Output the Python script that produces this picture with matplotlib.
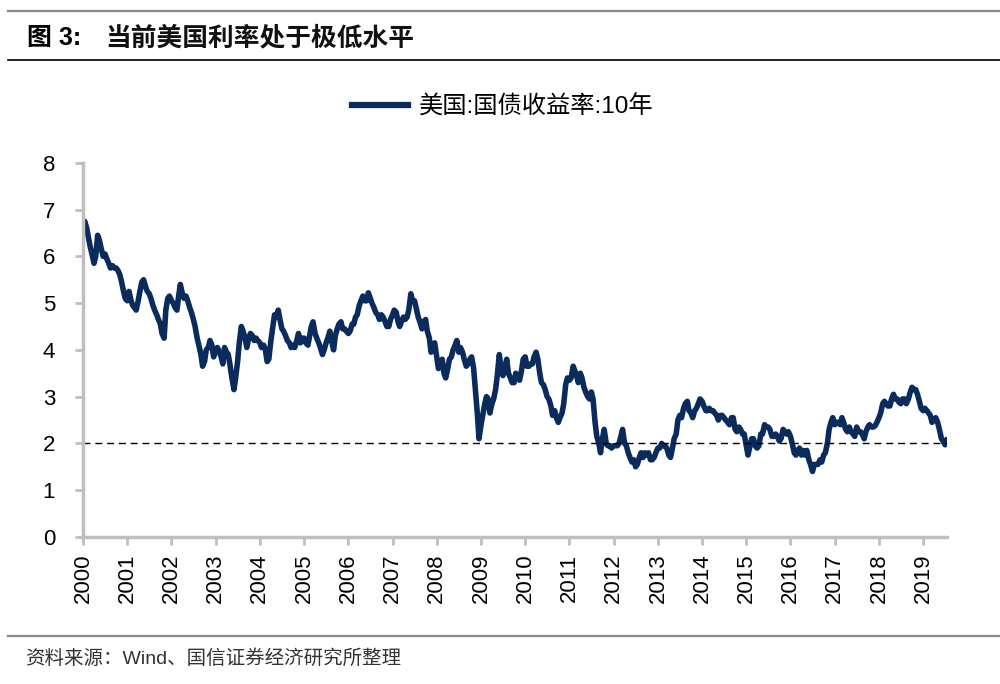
import numpy as np
import pandas as pd
import matplotlib
matplotlib.use('Agg')
import matplotlib.pyplot as plt
from matplotlib.lines import Line2D

plt.rcParams['font.family'] = ['Liberation Sans', 'Noto Sans CJK SC', 'DejaVu Sans']

# US 10Y treasury yield at half-month steps (1st / 15th)
y2000 = [6.55, 6.75, 6.60, 6.40, 6.20, 6.05, 5.85, 6.00, 6.45, 6.35, 6.15, 6.00,
         6.05, 5.95, 5.85, 5.75, 5.80, 5.75, 5.75, 5.70, 5.60, 5.45, 5.25, 5.10]
y2001 = [5.05, 5.25, 5.05, 4.95, 4.90, 4.85, 5.05, 5.25, 5.45, 5.50, 5.35, 5.25,
         5.20, 5.10, 4.95, 4.85, 4.75, 4.65, 4.55, 4.35, 4.25, 4.85, 5.10, 5.15]
y2002 = [5.05, 5.00, 4.90, 4.85, 5.15, 5.40, 5.20, 5.10, 5.15, 5.05, 4.90, 4.80,
         4.65, 4.50, 4.25, 4.10, 3.90, 3.65, 3.75, 4.00, 4.05, 4.20, 4.10, 3.85]
y2003 = [4.00, 4.05, 3.95, 3.85, 3.70, 4.05, 3.95, 3.90, 3.65, 3.40, 3.15, 3.40,
         3.75, 4.15, 4.50, 4.40, 4.25, 4.05, 4.25, 4.35, 4.30, 4.20, 4.25, 4.20]
y2004 = [4.15, 4.05, 4.10, 4.00, 3.75, 3.80, 4.20, 4.45, 4.75, 4.70, 4.85, 4.65,
         4.45, 4.40, 4.30, 4.20, 4.15, 4.05, 4.10, 4.05, 4.20, 4.35, 4.15, 4.25]
y2005 = [4.25, 4.15, 4.10, 4.30, 4.50, 4.60, 4.35, 4.25, 4.15, 4.05, 3.90, 4.00,
         4.15, 4.25, 4.40, 4.20, 4.00, 4.30, 4.45, 4.55, 4.60, 4.45, 4.45, 4.40]
y2006 = [4.35, 4.40, 4.55, 4.55, 4.70, 4.75, 4.95, 5.05, 5.15, 5.05, 5.05, 5.22,
         5.10, 5.00, 4.90, 4.80, 4.75, 4.65, 4.75, 4.70, 4.60, 4.50, 4.50, 4.65]
y2007 = [4.75, 4.85, 4.80, 4.60, 4.50, 4.60, 4.70, 4.65, 4.70, 4.85, 5.20, 5.05,
         5.05, 4.90, 4.70, 4.60, 4.45, 4.60, 4.65, 4.40, 4.25, 3.95, 4.10, 4.15]
y2008 = [3.85, 3.60, 3.70, 3.80, 3.50, 3.40, 3.60, 3.80, 3.85, 4.00, 4.10, 4.20,
         3.95, 4.05, 3.95, 3.80, 3.65, 3.70, 3.80, 3.85, 3.60, 3.15, 2.65, 2.10]
y2009 = [2.40, 2.60, 2.85, 3.00, 2.95, 2.65, 2.85, 2.95, 3.15, 3.45, 3.90, 3.60,
         3.45, 3.60, 3.80, 3.50, 3.40, 3.30, 3.30, 3.50, 3.45, 3.35, 3.55, 3.80]
y2010 = [3.85, 3.65, 3.65, 3.70, 3.70, 3.85, 3.95, 3.80, 3.50, 3.30, 3.25, 3.15,
         3.00, 2.95, 2.80, 2.60, 2.70, 2.55, 2.45, 2.55, 2.65, 2.85, 3.25, 3.40]
y2011 = [3.35, 3.40, 3.65, 3.55, 3.45, 3.30, 3.50, 3.40, 3.20, 3.10, 3.00, 2.95,
         3.10, 2.95, 2.45, 2.15, 2.00, 1.80, 2.10, 2.30, 2.00, 1.95, 1.95, 1.90]
y2012 = [1.95, 1.95, 1.95, 2.00, 2.15, 2.30, 2.00, 1.95, 1.80, 1.70, 1.60, 1.65,
         1.50, 1.55, 1.70, 1.80, 1.70, 1.80, 1.75, 1.80, 1.65, 1.65, 1.70, 1.80]
y2013 = [1.90, 1.90, 2.00, 1.95, 1.95, 1.90, 1.75, 1.70, 1.90, 2.10, 2.20, 2.50,
         2.60, 2.55, 2.75, 2.85, 2.90, 2.70, 2.65, 2.55, 2.70, 2.75, 2.85, 2.95]
y2014 = [2.90, 2.80, 2.70, 2.70, 2.75, 2.70, 2.70, 2.65, 2.60, 2.50, 2.60, 2.60,
         2.55, 2.50, 2.45, 2.40, 2.55, 2.55, 2.30, 2.25, 2.35, 2.30, 2.20, 2.20]
y2015 = [1.95, 1.75, 1.95, 2.10, 2.10, 1.95, 1.90, 1.95, 2.20, 2.20, 2.40, 2.35,
         2.35, 2.30, 2.15, 2.15, 2.20, 2.15, 2.05, 2.10, 2.30, 2.25, 2.20, 2.25]
y2016 = [2.15, 2.00, 1.80, 1.75, 1.85, 1.90, 1.75, 1.85, 1.75, 1.85, 1.65, 1.55,
         1.40, 1.55, 1.55, 1.55, 1.65, 1.60, 1.75, 1.80, 2.00, 2.30, 2.45, 2.55]
y2017 = [2.40, 2.45, 2.45, 2.40, 2.55, 2.45, 2.30, 2.25, 2.35, 2.25, 2.20, 2.15,
         2.35, 2.25, 2.25, 2.20, 2.10, 2.25, 2.35, 2.40, 2.35, 2.35, 2.38, 2.45]
y2018 = [2.55, 2.65, 2.85, 2.90, 2.85, 2.80, 2.80, 2.95, 3.05, 2.95, 2.95, 2.88,
         2.85, 2.95, 2.95, 2.85, 2.95, 3.08, 3.20, 3.15, 3.15, 3.05, 2.90, 2.75]
y2019 = [2.70, 2.75, 2.70, 2.65, 2.60, 2.45, 2.50, 2.55, 2.45, 2.30, 2.10, 2.05,
         1.97, 2.07]

yields = (y2000 + y2001 + y2002 + y2003 + y2004 + y2005 + y2006 + y2007 + y2008 +
          y2009 + y2010 + y2011 + y2012 + y2013 + y2014 + y2015 + y2016 + y2017 +
          y2018 + y2019)
dates = pd.date_range('2000-01-01', periods=len(yields), freq='SMS')

years = list(range(2000, 2020))
yticks = [0, 1, 2, 3, 4, 5, 6, 7, 8]

title_no = '图 3:'
title = '当前美国利率处于极低水平'
legend_label = '美国:国债收益率:10年'
source = '资料来源：Wind、国信证券经济研究所整理'

navy = '#0b2b5c'
grey = '#bfbfbf'
cjk = ['Liberation Sans', 'Noto Sans CJK SC']

fig = plt.figure(figsize=(10, 6.84), dpi=100)
ax = fig.add_axes([0.083, 0.215, 0.864, 0.547])

ax.plot(dates, yields, color=navy, lw=4.0, label=legend_label, solid_joinstyle='round')
ax.axhline(2, color='black', lw=1.0, ls=(0, (5, 3.5)))

ax.set_ylim(0, 8)
ax.set_xlim(pd.Timestamp('2000-01-01'), pd.Timestamp('2019-07-17'))
ax.set_yticks(yticks)
ax.set_xticks([pd.Timestamp(f'{y}-01-01') for y in years])
ax.set_xticklabels([str(y) for y in years], rotation=90, fontsize=16)
ax.tick_params(axis='y', labelsize=16, length=6, width=2, color=grey, pad=14)
ax.tick_params(axis='x', length=6, width=2, color=grey, pad=6)

for s in ['top', 'right']:
    ax.spines[s].set_visible(False)
for s in ['left', 'bottom']:
    ax.spines[s].set_color(grey)
    ax.spines[s].set_linewidth(2.5)

leg = fig.legend(loc='center', bbox_to_anchor=(0.503, 1 - 107 / 684), frameon=False,
                 handlelength=2.3, handletextpad=0.45,
                 prop={'family': cjk, 'size': 17.5})
for h in leg.get_lines():
    h.set_linewidth(4.5)

fig.text(0.027, 1 - 38 / 684, title_no, fontsize=18, fontweight='bold', va='center',
         family=cjk)
fig.text(0.105, 1 - 38 / 684, title, fontsize=18.5, fontweight='bold', va='center',
         family=cjk, color='#111111')
fig.text(0.025, 1 - 659 / 684, source, fontsize=14, va='center', color='#333333',
         family=cjk)

fig.add_artist(Line2D([0.008, 1.0], [1 - 11 / 684] * 2, color='#888888', lw=1.6))
fig.add_artist(Line2D([0.008, 1.0], [1 - 60 / 684] * 2, color='black', lw=1.2))
fig.add_artist(Line2D([0.008, 1.0], [1 - 636 / 684] * 2, color='#888888', lw=1.6))

fig.savefig('out.png', dpi=100)
